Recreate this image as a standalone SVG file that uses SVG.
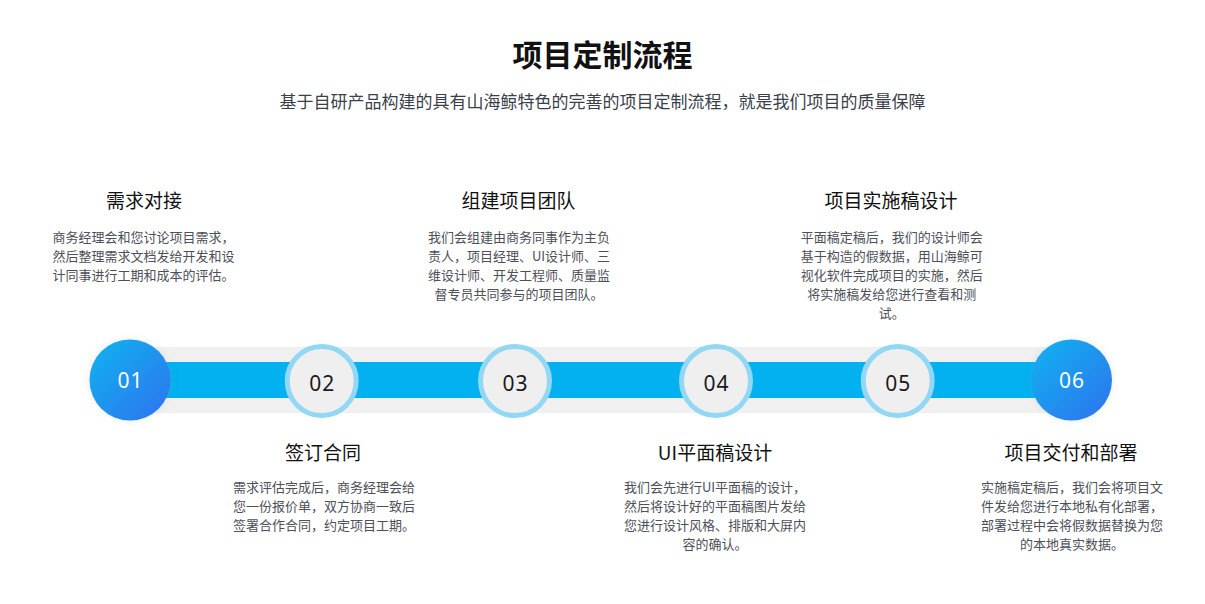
<svg xmlns="http://www.w3.org/2000/svg" width="1205" height="604" viewBox="0 0 1205 604">
<defs>
<linearGradient id="gBlue" x1="0" y1="0" x2="1" y2="1">
<stop offset="0" stop-color="#10b4f0"/>
<stop offset="1" stop-color="#2f72ee"/>
</linearGradient>
<filter id="glow" x="-30%" y="-30%" width="160%" height="160%">
<feDropShadow dx="0" dy="0" stdDeviation="3.5" flood-color="#7a9ab8" flood-opacity="0.22"/>
</filter>
<style>
.title{font-family:"Noto Sans CJK SC","Noto Sans",sans-serif;font-size:30px;font-weight:700;fill:#111;text-anchor:middle}
.sub{font-family:"Noto Sans CJK SC","Noto Sans",sans-serif;font-size:17px;fill:#3a3f4a;text-anchor:middle}
.head{font-family:"Noto Sans CJK SC","Noto Sans",sans-serif;font-size:19px;fill:#111;text-anchor:middle}
.desc{font-family:"Noto Sans CJK SC","Noto Sans",sans-serif;font-size:13px;fill:#4d5058;text-anchor:middle}
.num{font-family:"Noto Sans","Open Sans",sans-serif;font-size:21px;font-weight:400;letter-spacing:1px;text-anchor:middle}
.numW{fill:#ffffff}
.numD{fill:#1a1a1a}
.end{fill:url(#gBlue);filter:url(#glow)}
.mid{fill:#efefef;stroke:#92d7f3;stroke-width:5}
</style>
</defs>
<rect width="1205" height="604" fill="#ffffff"/>
<text class="title" x="602.5" y="66">项目定制流程</text>
<text class="sub" x="602.5" y="107.5">基于自研产品构建的具有山海鲸特色的完善的项目定制流程，就是我们项目的质量保障</text>

<g id="connectors">
<rect x="130" y="347" width="941" height="66" fill="#f0f0f0"/>
<rect x="130" y="362" width="941" height="36" fill="#03b0f0"/>
</g>

<g id="step01">
<circle class="end" cx="130" cy="380" r="40.5"/>
<text class="num numW" x="130.5" y="388">01</text>
<text class="head" x="144" y="208">需求对接</text>
<text class="desc" y="241.5"><tspan x="143.5">商务经理会和您讨论项目需求，</tspan><tspan x="143.5" dy="19">然后整理需求文档发给开发和设</tspan><tspan x="143.5" dy="19">计同事进行工期和成本的评估。</tspan></text>
</g>

<g id="step02">
<circle class="mid" cx="321.7" cy="381" r="34.5"/>
<text class="num numD" x="322.2" y="391">02</text>
<text class="head" x="323" y="459.5">签订合同</text>
<text class="desc" y="491.7"><tspan x="324">需求评估完成后，商务经理会给</tspan><tspan x="324" dy="19">您一份报价单，双方协商一致后</tspan><tspan x="324" dy="19">签署合作合同，约定项目工期。</tspan></text>
</g>

<g id="step03">
<circle class="mid" cx="515" cy="381" r="34.5"/>
<text class="num numD" x="515.5" y="391">03</text>
<text class="head" x="518.5" y="208">组建项目团队</text>
<text class="desc" y="241.5"><tspan x="519">我们会组建由商务同事作为主负</tspan><tspan x="519" dy="19">责人，项目经理、UI设计师、三</tspan><tspan x="519" dy="19">维设计师、开发工程师、质量监</tspan><tspan x="519" dy="19">督专员共同参与的项目团队。</tspan></text>
</g>

<g id="step04">
<circle class="mid" cx="716" cy="381" r="34.5"/>
<text class="num numD" x="716.5" y="391">04</text>
<text class="head" x="715" y="459.5">UI平面稿设计</text>
<text class="desc" y="491.7"><tspan x="715">我们会先进行UI平面稿的设计，</tspan><tspan x="715" dy="19">然后将设计好的平面稿图片发给</tspan><tspan x="715" dy="19">您进行设计风格、排版和大屏内</tspan><tspan x="715" dy="19">容的确认。</tspan></text>
</g>

<g id="step05">
<circle class="mid" cx="897.7" cy="381" r="34.5"/>
<text class="num numD" x="898.2" y="391">05</text>
<text class="head" x="891" y="208">项目实施稿设计</text>
<text class="desc" y="241.5"><tspan x="891.7">平面稿定稿后，我们的设计师会</tspan><tspan x="891.7" dy="19">基于构造的假数据，用山海鲸可</tspan><tspan x="891.7" dy="19">视化软件完成项目的实施，然后</tspan><tspan x="891.7" dy="19">将实施稿发给您进行查看和测</tspan><tspan x="891.7" dy="19">试。</tspan></text>
</g>

<g id="step06">
<circle class="end" cx="1071.5" cy="380" r="40.5"/>
<text class="num numW" x="1072" y="388">06</text>
<text class="head" x="1071" y="459.5">项目交付和部署</text>
<text class="desc" y="491.7"><tspan x="1072">实施稿定稿后，我们会将项目文</tspan><tspan x="1072" dy="19">件发给您进行本地私有化部署，</tspan><tspan x="1072" dy="19">部署过程中会将假数据替换为您</tspan><tspan x="1072" dy="19">的本地真实数据。</tspan></text>
</g>
</svg>
